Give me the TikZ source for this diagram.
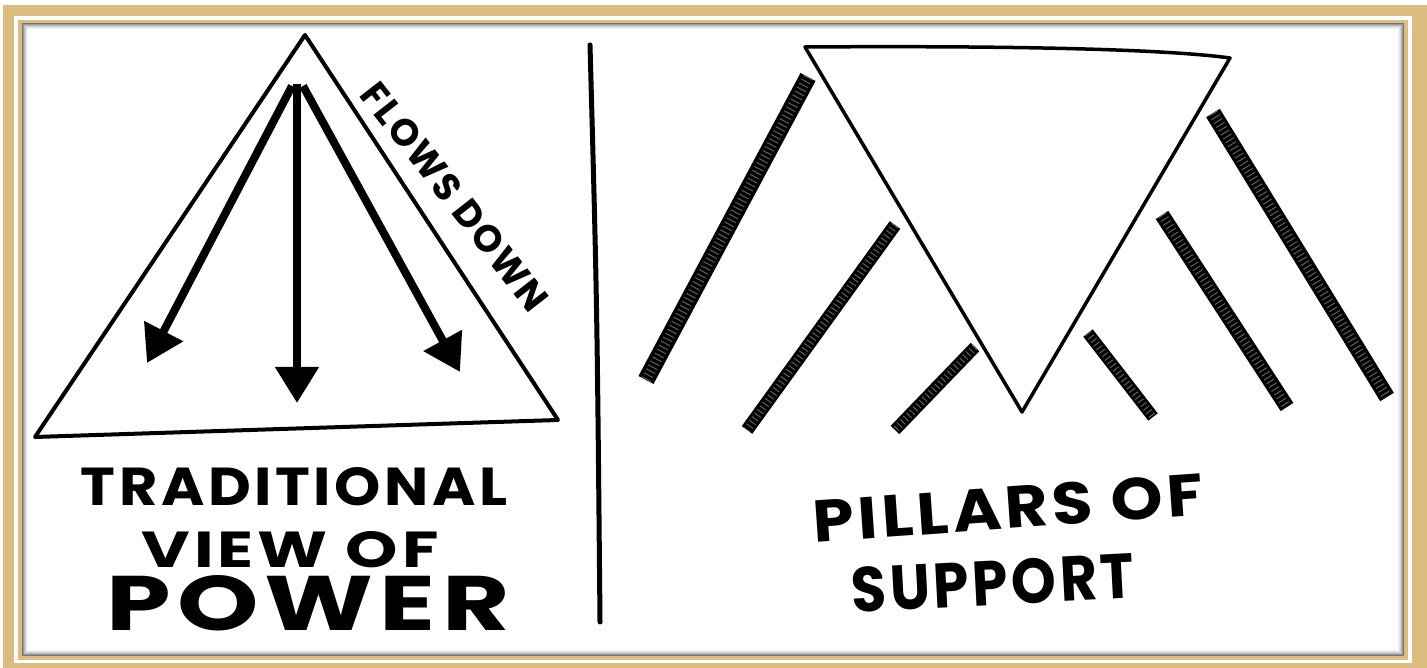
\documentclass[tikz,border=0pt]{standalone}
\usepackage{fontspec}
\newfontfamily\handfont[LetterSpace=6]{Poppins}
\usetikzlibrary{arrows.meta}
\definecolor{framegold}{RGB}{219,190,127}
\tikzset{
  outline/.style={line width=0.04cm, line join=round, line cap=round},
  pillar/.style={line width=#1, draw=black,
    postaction={draw=black!62, line width=0.6*#1, dash pattern=on 0.01cm off 0.035cm}},
  downarrow/.style={line width=0.08cm, -{Triangle[length=0.36cm,width=0.42cm]}},
  hand/.style={font=\handfont\bfseries, inner sep=0pt},
}
\newcommand{\handtext}[3]{\resizebox{#1}{#2}{#3}}
\begin{document}
\begin{tikzpicture}[x=0.01cm, y=-0.01cm]
    \useasboundingbox (0,0) rectangle (1427,668);
    % frame
    \fill[white] (0,0) rectangle (1427,668);
    \fill[framegold] (3,5) rectangle (1427,668);
    \fill[white] (14,16) rectangle (1412,663);
    \fill[framegold] (18,20) rectangle (1408,660);
    \fill[white] (22,23) rectangle (1404,656);
    \foreach \i/\c in {0/55,1/40,2/28,3/18,4/10,5/5}
        \draw[black!\c, line width=0.01cm] (22.5+\i,23.5+\i) rectangle (1403.5-\i,655.5-\i);

    % traditional pyramid
    \coordinate (apex) at (305,35);
    \coordinate (baseL) at (35,437);
    \coordinate (baseR) at (558,420);
    \draw[outline] (apex) -- (baseR) -- (baseL) -- cycle;

    \coordinate (rootL) at (292,86);
    \coordinate (rootM) at (297,84);
    \coordinate (rootR) at (303,86);
    \coordinate (tipL) at (147,363);
    \coordinate (tipM) at (297,403);
    \coordinate (tipR) at (460,372);
    \draw[downarrow] (rootL) -- (tipL);
    \draw[downarrow] (rootM) -- (tipM);
    \draw[downarrow] (rootR) -- (tipR);

    \node[hand, rotate=-52] (flows) at (455,197) {\handtext{2.78cm}{0.27cm}{FLOWS DOWN}};

    \node[hand] (trad) at (294,487) {\handtext{4.26cm}{0.38cm}{TRADITIONAL}};
    \node[hand] (view) at (290,550) {\handtext{2.97cm}{0.36cm}{VIEW OF}};
    \node[hand] (power) at (308,603) {\handtext{4.03cm}{0.55cm}{POWER}};

    % divider
    \coordinate (divtop) at (590,45);
    \coordinate (divbot) at (600,622);
    \draw[line width=0.05cm, line cap=round] (divtop) .. controls (597,300) .. (divbot);

    % inverted pyramid
    \coordinate (itl) at (805,47);
    \coordinate (itr) at (1230,58);
    \coordinate (itb) at (1022,412);
    \draw[outline, line width=0.035cm] (itl) .. controls (950,46) and (1150,47) .. (itr) -- (itb) -- cycle;

    % pillars
    \draw[pillar=0.17cm] (808,77) -- (646,380);
    \draw[pillar=0.13cm] (895,225) -- (747,430);
    \draw[pillar=0.12cm] (975,347) -- (895,430);
    \draw[pillar=0.12cm] (1088,333) -- (1153,417);
    \draw[pillar=0.15cm] (1162,215) -- (1287,407);
    \draw[pillar=0.16cm] (1213,113) -- (1387,397);

    \node[hand, rotate=4] (pillars) at (1008,508) {\handtext{3.9cm}{0.42cm}{PILLARS OF}};
    \node[hand, rotate=3] (support) at (993,583) {\handtext{2.83cm}{0.45cm}{SUPPORT}};
\end{tikzpicture}
\end{document}
